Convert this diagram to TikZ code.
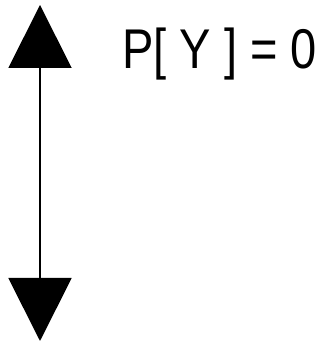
\documentclass[tikz,border=0pt]{standalone}
\usepackage{graphicx}
\usepackage{fontspec}
\setmainfont{Liberation Sans}
\usetikzlibrary{positioning,arrows.meta}

\begin{document}
\begin{tikzpicture}[
  x=1pt, y=1pt,
  axis/.style={{Triangle[length=63pt, width=63pt]}-{Triangle[length=63pt, width=63pt]}, line width=2pt, draw=black},
  prob/.style={anchor=base west, inner sep=0pt, font=\fontsize{56}{60}\selectfont}
]
\useasboundingbox (0,0) rectangle (322,344);
\coordinate (top) at (40,339);
\coordinate (bottom) at (40,3);
\draw[axis] (bottom) -- (top);

% the label's letters are narrower than Arial's
\node[prob] (label) at (122,275) {\scalebox{0.84}[1]{P[ Y ] = 0}};
\end{tikzpicture}
\end{document}
